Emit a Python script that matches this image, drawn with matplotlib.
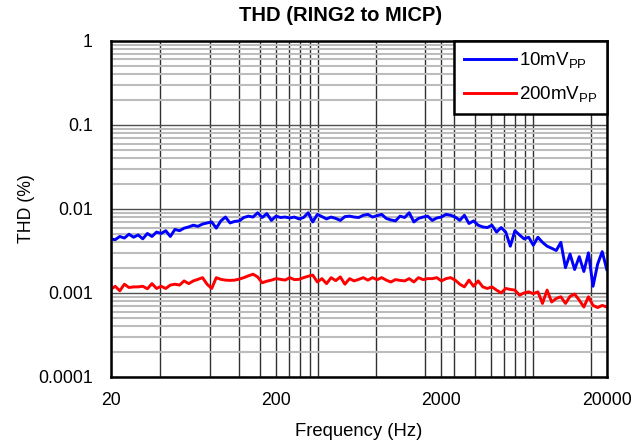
import numpy as np
import matplotlib
matplotlib.use("Agg")
import matplotlib.pyplot as plt

plt.rcParams['font.family'] = ['Liberation Sans', 'DejaVu Sans']
plt.rcParams['mathtext.default'] = 'regular'

# sweep frequencies (Hz)
freq = [20, 21.32, 22.73, 24.23, 25.83, 27.54, 29.36, 31.3, 33.36, 35.57,
        37.92, 40.42, 43.09, 45.94, 48.97, 52.21, 55.66, 59.33, 63.25, 67.43,
        71.88, 76.63, 81.69, 87.09, 92.84, 98.97, 105.5, 112.5, 119.9, 127.8,
        136.3, 145.3, 154.9, 165.1, 176.0, 187.6,
        200, 213.2, 227.3, 242.3, 258.3, 275.4, 293.6, 313.0, 333.6, 355.7,
        379.2, 404.2, 430.9, 459.4, 489.7, 522.1, 556.6, 593.3, 632.5, 674.3,
        718.8, 766.3, 816.9, 870.9, 928.4, 989.7, 1055, 1125, 1199, 1278,
        1363, 1453, 1549, 1651, 1760, 1876,
        2000, 2132, 2273, 2423, 2583, 2754, 2936, 3130, 3336, 3557,
        3792, 4042, 4309, 4594, 4897, 5221, 5566, 5933, 6325, 6743,
        7188, 7663, 8169, 8709, 9284, 9897, 10550, 11250, 11990, 12780,
        13630, 14530, 15490, 16510, 17600, 18760, 20000]

# THD (%) at 10mVpp
thd_10mv = [0.0044, 0.0043, 0.0047, 0.0045, 0.0050, 0.0046, 0.0049, 0.0044, 0.0051, 0.0047,
            0.0053, 0.0051, 0.0055, 0.0047, 0.0057, 0.0055, 0.0059, 0.0061, 0.0064, 0.0062,
            0.0066, 0.0068, 0.0070, 0.0059, 0.0072, 0.0080, 0.0068, 0.0071, 0.0072, 0.0079,
            0.0082, 0.0080, 0.0090, 0.0079, 0.0088, 0.0073, 0.0082, 0.0079, 0.0080, 0.0078,
            0.0080, 0.0076, 0.0079, 0.0090, 0.0070, 0.0086, 0.0081, 0.0076, 0.0080, 0.0077,
            0.0073, 0.0081, 0.0082, 0.0080, 0.0079, 0.0084, 0.0086, 0.0080, 0.0083, 0.0086,
            0.0077, 0.0074, 0.0072, 0.0082, 0.0079, 0.0090, 0.0070, 0.0077, 0.0080, 0.0082,
            0.0073, 0.0078, 0.0080, 0.0086, 0.0084, 0.0080, 0.0073, 0.0084, 0.0067, 0.0072,
            0.0064, 0.0061, 0.0060, 0.0064, 0.0053, 0.0060, 0.0053, 0.0036, 0.0055, 0.0049,
            0.0044, 0.0046, 0.0037, 0.0046, 0.0040, 0.0036, 0.0034, 0.0032, 0.0040, 0.0020,
            0.0029, 0.0019, 0.0027, 0.0018, 0.0030, 0.0012, 0.0022, 0.0031, 0.0019]

# THD (%) at 200mVpp
thd_200mv = [0.00110, 0.00120, 0.00106, 0.00127, 0.00116, 0.00118, 0.00118, 0.00120, 0.00112, 0.00129,
             0.00113, 0.00120, 0.00113, 0.00124, 0.00127, 0.00124, 0.00139, 0.00129, 0.00139, 0.00145,
             0.00152, 0.00127, 0.00113, 0.00152, 0.00145, 0.00142, 0.00141, 0.00142, 0.00146, 0.00152,
             0.00160, 0.00167, 0.00155, 0.00132, 0.00138, 0.00142, 0.00148, 0.00145, 0.00142, 0.00152,
             0.00144, 0.00145, 0.00152, 0.00158, 0.00163, 0.00135, 0.00148, 0.00129, 0.00152, 0.00140,
             0.00155, 0.00127, 0.00148, 0.00139, 0.00145, 0.00152, 0.00142, 0.00152, 0.00144, 0.00152,
             0.00142, 0.00135, 0.00144, 0.00141, 0.00139, 0.00148, 0.00135, 0.00152, 0.00144, 0.00148,
             0.00148, 0.00152, 0.00139, 0.00148, 0.00152, 0.00142, 0.00127, 0.00118, 0.00142, 0.00120,
             0.00139, 0.00118, 0.00113, 0.00118, 0.00108, 0.00100, 0.00113, 0.00110, 0.00108, 0.00094,
             0.00100, 0.00103, 0.00098, 0.00103, 0.00075, 0.00108, 0.00078, 0.00086, 0.00090, 0.00075,
             0.00091, 0.00097, 0.00082, 0.00068, 0.00090, 0.00071, 0.00067, 0.00071, 0.00068]

x_major = [20, 200, 2000, 20000]
x_labels = ['20', '200', '2000', '20000']
# vertical grid lines as drawn in the original
x_grid = [40, 80, 120, 160, 240, 280, 320, 360, 800, 1600,
          2400, 3200, 4000, 4800, 5600, 6400, 7200, 16000]
y_major = [0.0001, 0.001, 0.01, 0.1, 1]
y_labels = ['0.0001', '0.001', '0.01', '0.1', '1']

fig = plt.figure(figsize=(6.43, 4.44), dpi=100)
ax = fig.add_axes([0.172, 0.151, 0.7717, 0.757])

ax.plot(freq, thd_10mv, color='#0000FF', lw=2.1, label='10mV$_{PP}$', zorder=3)
ax.plot(freq, thd_200mv, color='#FF0000', lw=2.1, label='200mV$_{PP}$', zorder=3)

ax.set_xscale('log')
ax.set_yscale('log')
ax.set_xlim(20, 20000)
ax.set_ylim(0.0001, 1)

ax.set_xticks(x_major)
ax.set_xticklabels(x_labels)
ax.set_xticks(x_grid, minor=True)
ax.set_xticklabels([], minor=True)
ax.set_yticks(y_major)
ax.set_yticklabels(y_labels)
ax.set_yticks([m * d for d in [0.0001, 0.001, 0.01, 0.1] for m in range(2, 10)], minor=True)
ax.set_yticklabels([], minor=True)

ax.grid(which='minor', axis='y', color='#bcbcbc', lw=1.5, zorder=1)
ax.grid(which='major', axis='y', color='#505050', lw=1.0, zorder=2)
ax.grid(which='both', axis='x', color='#303030', lw=1.0, zorder=2)

ax.tick_params(which='both', length=0, labelsize=12.7)
ax.tick_params(axis='x', pad=11)
ax.tick_params(axis='y', pad=13)
for s in ax.spines.values():
    s.set_linewidth(1.8)
    s.set_color('black')
    s.set_zorder(4)

ax.set_xlabel('Frequency (Hz)', fontsize=13.3, labelpad=10)
ax.set_ylabel('THD (%)', fontsize=12.7, labelpad=2)
fig.text(0.53, 0.965, 'THD (RING2 to MICP)', fontsize=14.5, fontweight='bold',
         ha='center', va='center')

leg = ax.legend(loc='upper right', bbox_to_anchor=(1, 1), borderaxespad=0,
                fontsize=13.5, fancybox=False, framealpha=1, edgecolor='black',
                handlelength=2.8, handletextpad=0.15, labelspacing=0.75,
                borderpad=0.5)
leg.get_frame().set_linewidth(1.8)
leg.set_zorder(5)

fig.savefig('out.png', dpi=100)
